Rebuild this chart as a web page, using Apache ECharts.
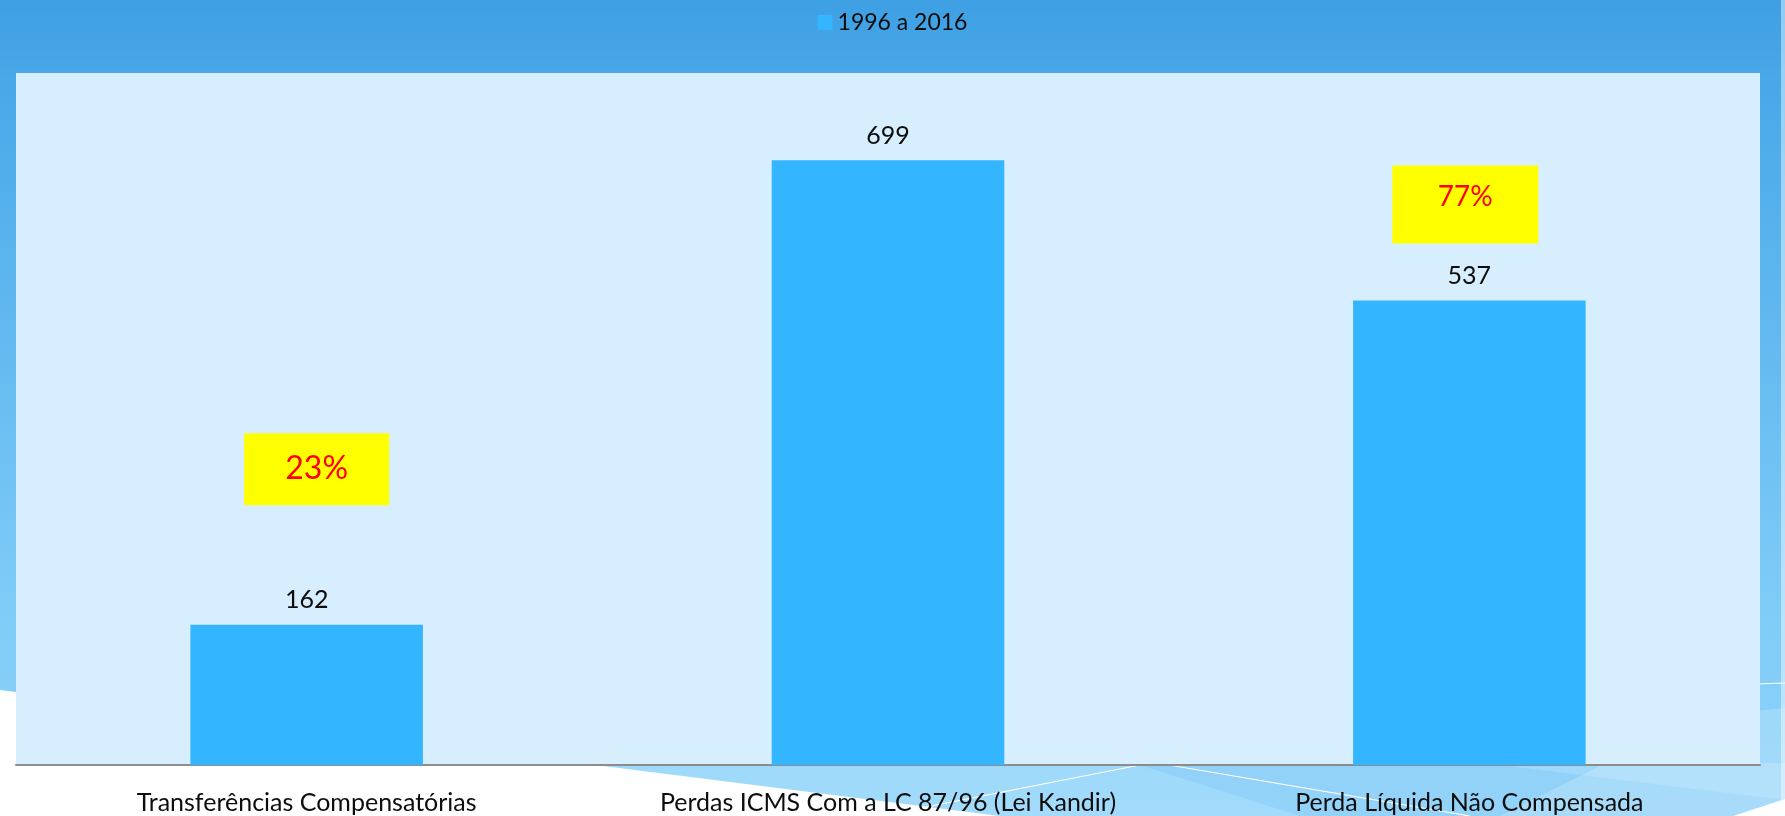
<!DOCTYPE html>
<html>
<head>
<meta charset="utf-8">
<script src="https://cdn.jsdelivr.net/npm/echarts@6/dist/echarts.min.js"></script>
<style>
  html, body { margin: 0; padding: 0; background: #fff; }
  #chart { width: 1785px; height: 816px; }
</style>
</head>
<body>
<div id="chart"></div>
<script>
const categories = [
  'Transferências Compensatórias',
  'Perdas ICMS Com a LC 87/96 (Lei Kandir)',
  'Perda Líquida Não Compensada'
];
const values = [162, 699, 537];
const seriesName = '1996 a 2016';

// share of the total loss (middle bar)
const total = values[1];
const pct = (v) => Math.round(v / total * 100) + '%';

const chart = echarts.init(document.getElementById('chart'));

const fontFamily = 'Lato';

const option = {
  backgroundColor: {
    type: 'linear', x: 0, y: 0, x2: 0, y2: 1,
    colorStops: [
      { offset: 0, color: '#3E9FE3' },
      { offset: 0.1, color: '#48A8E8' },
      { offset: 0.75, color: '#7FCCF8' },
      { offset: 1, color: '#8ED3FA' }
    ]
  },
  textStyle: { fontFamily: fontFamily },
  // slide decoration behind the plot
  graphic: [
    { type: 'polygon', z: -10, shape: { points: [[0, 690], [1000, 816], [0, 816]] }, style: { fill: '#ffffff' } },
    { type: 'polygon', z: -10, shape: { points: [[500, 763], [1785, 763], [1785, 816], [1000, 816]] }, style: { fill: 'rgba(255,255,255,0.18)' } },
    { type: 'polygon', z: -10, shape: { points: [[1140, 765], [1500, 765], [1785, 800], [1785, 816], [1300, 816]] }, style: { fill: 'rgba(70,170,240,0.15)' } },
    { type: 'polygon', z: -10, shape: { points: [[1700, 716], [1785, 708], [1785, 816], [1500, 816]] }, style: { fill: 'rgba(255,255,255,0.2)' } },
    { type: 'polygon', z: -10, shape: { points: [[1733, 816], [1785, 799], [1785, 816]] }, style: { fill: '#ffffff' } },
    { type: 'line', z: -9, shape: { x1: 1140, y1: 765, x2: 880, y2: 816 }, style: { stroke: '#ffffff', lineWidth: 1.2 } },
    { type: 'line', z: -9, shape: { x1: 1169, y1: 765, x2: 1470, y2: 816 }, style: { stroke: '#ffffff', lineWidth: 1.2 } },
    { type: 'line', z: -9, shape: { x1: 1700, y1: 686, x2: 1785, y2: 683 }, style: { stroke: '#ffffff', lineWidth: 1.2 } },
    { type: 'rect', z: -9, shape: { x: 1781, y: 0, width: 4, height: 816 }, style: { fill: 'rgba(255,255,255,0.45)' } }
  ],
  legend: {
    top: 6,
    left: 'center',
    itemWidth: 15,
    itemHeight: 15,
    itemGap: 10,
    icon: 'rect',
    textStyle: { fontSize: 23, color: '#0D0D0D', fontFamily: fontFamily },
    data: [seriesName]
  },
  grid: {
    left: 16,
    right: 25,
    top: 73,
    bottom: 51,
    show: true,
    backgroundColor: '#D6EEFD',
    borderWidth: 0,
    containLabel: false
  },
  xAxis: {
    type: 'category',
    data: categories,
    axisTick: { show: false },
    axisLine: { lineStyle: { color: '#8C8C8C', width: 2 } },
    axisLabel: { color: '#0D0D0D', fontSize: 25, margin: 25, interval: 0 }
  },
  yAxis: {
    type: 'value',
    min: 0,
    max: 800,
    show: false,
    splitLine: { show: false }
  },
  series: [
    {
      name: seriesName,
      type: 'bar',
      data: values,
      barWidth: '40%',
      itemStyle: { color: '#33B5FF' },
      label: {
        show: true,
        position: 'top',
        distance: 12,
        color: '#0D0D0D',
        fontSize: 25
      },
      markPoint: {
        symbol: 'rect',
        itemStyle: { color: '#FFFF00' },
        label: { show: true, color: '#FF0000', fontFamily: fontFamily },
        data: [
          {
            coord: [categories[0], 342],
            symbolSize: [145, 72],
            symbolOffset: [10, 0],
            label: { formatter: pct(values[0]), fontSize: 32 }
          },
          {
            coord: [categories[2], 648],
            symbolSize: [146, 78],
            symbolOffset: [-4, 0],
            label: { formatter: pct(values[2]), fontSize: 28, offset: [0, -8] }
          }
        ]
      }
    }
  ]
};

chart.setOption(option);
</script>
</body>
</html>
